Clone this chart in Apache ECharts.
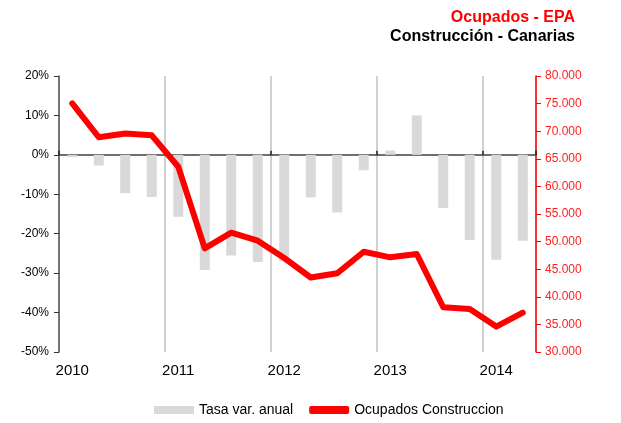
<!DOCTYPE html>
<html>
<head>
<meta charset="utf-8">
<script src="https://cdn.jsdelivr.net/npm/echarts@6/dist/echarts.min.js"></script>
<style>
html,body{margin:0;padding:0;background:#fff;}
#chart{width:621px;height:423px;}
</style>
</head>
<body>
<div id="chart"></div>
<script>
var quarters = ["2010T1","2010T2","2010T3","2010T4","2011T1","2011T2","2011T3","2011T4","2012T1","2012T2","2012T3","2012T4","2013T1","2013T2","2013T3","2013T4","2014T1","2014T2"];
var yearLabels = ["2010","","","","2011","","","","2012","","","","2013","","","","2014",""];
var tasaVarAnual = [-0.6,-2.7,-9.7,-10.7,-15.7,-29.2,-25.5,-27.2,-27.0,-10.8,-14.6,-3.9,1.1,10.0,-13.5,-21.6,-26.6,-21.8];
var ocupados = [75050,68900,69600,69250,63570,48780,51620,50170,47030,43500,44260,48170,47150,47750,38100,37790,34600,37120];
var titleLine1 = "Ocupados - EPA";
var titleLine2 = "Construcción - Canarias";
var seriesNames = ["Tasa var. anual","Ocupados Construccion"];
var quartersPerYear = 4;

function fmtThousands(v){
  var s = String(Math.round(v));
  return s.replace(/\B(?=(\d{3})+(?!\d))/g, ".");
}

var chart = echarts.init(document.getElementById('chart'), null, {renderer:'canvas'});
var font = "'Liberation Sans', Arial, sans-serif";
chart.setOption({
  animation:false,
  backgroundColor:'#fff',
  textStyle:{fontFamily:font},
  title:[
    {text:titleLine1, right:41, top:5, textStyle:{color:'#ff0000', fontSize:16, fontWeight:'bold', fontFamily:font}},
    {text:titleLine2, right:41, top:24, textStyle:{color:'#000', fontSize:16, fontWeight:'bold', fontFamily:font}}
  ],
  legend:{
    bottom:1, left:149, itemGap:16, itemWidth:40, itemHeight:8,
    textStyle:{fontSize:14, color:'#000', fontFamily:font},
    data:[
      {name:seriesNames[0], icon:'rect', itemStyle:{color:'#d9d9d9'}},
      {name:seriesNames[1], icon:'roundRect', itemStyle:{color:'#ff0000'}}
    ]
  },
  grid:{left:59, right:85, top:76, bottom:71, containLabel:false},
  xAxis:[
    {
      type:'category', data:quarters, position:'bottom', boundaryGap:true,
      axisLine:{show:false, onZero:false},
      axisTick:{show:false},
      axisLabel:{interval:0, color:'#000', fontSize:15, margin:11, fontFamily:font,
        formatter:function(v, i){ return yearLabels[i]; }},
      splitLine:{show:false}
    },
    {
      type:'value', min:0, max:quarters.length, interval:quartersPerYear, position:'bottom',
      axisLine:{show:true, onZero:true, onZeroAxisIndex:0, lineStyle:{color:'#404040', width:1.5}},
      axisTick:{show:true, length:4, inside:true, lineStyle:{color:'#202020', width:1.5}},
      axisLabel:{show:false},
      splitLine:{show:false}
    },
    {
      type:'value', min:0, max:quarters.length, interval:quartersPerYear, position:'bottom',
      axisLine:{show:false, onZero:false},
      axisTick:{show:false},
      axisLabel:{show:false},
      splitLine:{show:true, lineStyle:{color:'#c0c0c0', width:1.5}}
    }
  ],
  yAxis:[
    {
      type:'value', min:-50, max:20, interval:10, position:'left',
      axisLine:{show:true, onZero:false, lineStyle:{color:'#555', width:1.5}},
      axisTick:{show:true, length:5, lineStyle:{color:'#333'}},
      axisLabel:{color:'#000', fontSize:12, margin:10, fontFamily:font, formatter:function(v){return v+'%';}},
      splitLine:{show:false}
    },
    {
      type:'value', min:30000, max:80000, interval:5000, position:'right',
      axisLine:{show:true, onZero:false, lineStyle:{color:'#ff0000', width:1.5}},
      axisTick:{show:true, length:5, lineStyle:{color:'#ff0000'}},
      axisLabel:{color:'#ff2020', fontSize:12, margin:9, fontFamily:font, formatter:fmtThousands},
      splitLine:{show:false}
    }
  ],
  series:[
    {
      name:seriesNames[0], type:'bar', xAxisIndex:0, yAxisIndex:0,
      data:tasaVarAnual, barWidth:10, itemStyle:{color:'#d9d9d9'}, z:1
    },
    {
      name:seriesNames[1], type:'line', xAxisIndex:0, yAxisIndex:1,
      data:ocupados, showSymbol:false, symbol:'none',
      lineStyle:{color:'#ff0000', width:6, cap:'round', join:'round'},
      itemStyle:{color:'#ff0000'}, z:5
    }
  ]
});
</script>
</body>
</html>
